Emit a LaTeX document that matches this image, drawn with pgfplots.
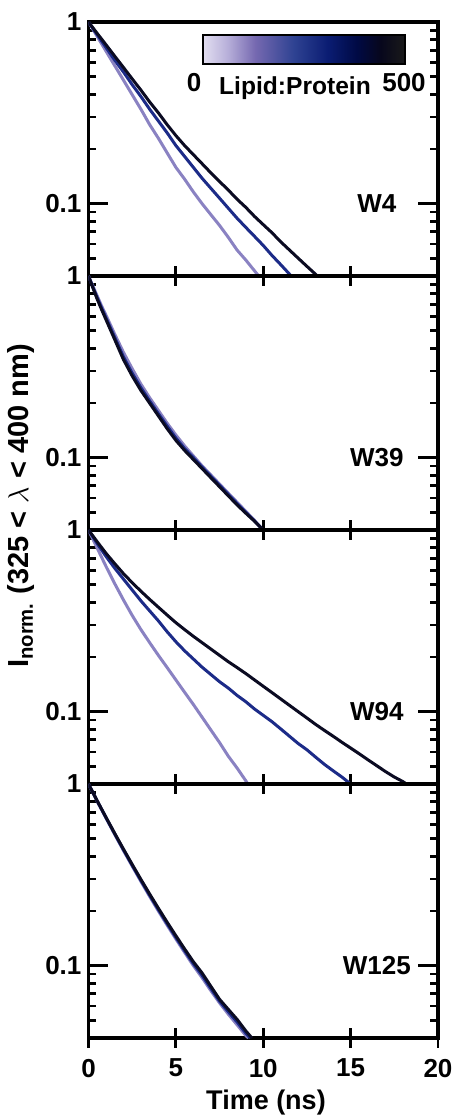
\documentclass[border=0pt]{standalone}
\usepackage{pgfplots}
\pgfplotsset{compat=1.18}
\usepackage{fontspec}
\setmainfont{Liberation Sans}
\definecolor{clight}{HTML}{8A82C2}
\definecolor{cmid}{HTML}{1C2B88}
\definecolor{cdark}{HTML}{0B0B22}
\definecolor{cb0}{HTML}{E2DEF0}
\definecolor{cb1}{HTML}{B8B0DA}
\definecolor{cb2}{HTML}{7568B0}
\definecolor{cb3}{HTML}{2E4292}
\definecolor{cb4}{HTML}{0A1C72}
\definecolor{cb5}{HTML}{000A45}
\definecolor{cb6}{HTML}{07071C}
\definecolor{cb7}{HTML}{1A1A1A}
\pgfdeclarehorizontalshading{lipidmap}{100bp}{color(0bp)=(cb0); color(25bp)=(cb0); color(31bp)=(cb1); color(38bp)=(cb2); color(47.5bp)=(cb3); color(56bp)=(cb4); color(63bp)=(cb5); color(69bp)=(cb6); color(75bp)=(cb7); color(100bp)=(cb7)}
\newcommand{\tf}{\bfseries\fontsize{13}{15}\selectfont}
\newcommand{\lf}{\bfseries\fontsize{12.3}{15}\selectfont}
\newcommand{\yf}{\bfseries\fontsize{14.5}{17}\selectfont}
\newcommand{\xf}{\bfseries\fontsize{13.5}{16}\selectfont}
\newcommand{\ylab}{I\textsubscript{norm.} (325 < $\lambda$ < 400 nm)}
\pgfplotsset{
lt/.style={clight, line width=1.5pt},
md/.style={cmid, line width=1.5pt},
dk/.style={cdark, line width=1.5pt}}
\begin{document}
\begin{tikzpicture}
\useasboundingbox (0,0) rectangle (227pt,560pt);
\pgfplotsset{every axis/.append style={
  xmin=0, xmax=20, ymin=0.04, ymax=1,
  scale only axis, width=174.75pt, height=127pt, anchor=south west,
  axis line style={line width=1.6pt},
  every tick/.append style={black, line width=1.4pt},
  ytick={0.1,1}, yticklabels={0.1,1},
  minor ytick={0.04,0.05,0.06,0.07,0.08,0.09,0.2,0.3,0.4,0.5,0.6,0.7,0.8,0.9},
  xtick={0,5,10,15,20},
  xtick pos=left, ytick pos=both,
  xtick align=center, ytick align=inside,
  major tick length=10pt, minor tick length=4pt,
  ticklabel style={font=\tf},
  xticklabel style={yshift=-2pt},
}}
% ---------- W4 ----------
\begin{axis}[ymode=log, at={(44.25pt,422pt)}, xticklabels={}]
\addplot[lt] coordinates {(0,1) (0.5,0.8318) (1,0.6918) (1.5,0.5754) (2,0.4786) (2.5,0.3981) (3,0.3311) (3.5,0.2723) (4,0.2291) (4.5,0.1905) (5,0.1585) (5.5,0.1365) (6,0.1161) (6.5,0.1) (7,0.0871) (7.5,0.0759) (8,0.0653) (8.5,0.0556) (9,0.0490) (9.5,0.0427) (9.74,0.0400)};
\addplot[md] coordinates {(0,1) (0.5,0.8511) (1,0.7244) (1.5,0.6166) (2,0.5309) (2.5,0.4519) (3,0.3890) (3.5,0.3311) (4,0.2851) (4.5,0.2455) (5,0.2089) (5.5,0.1820) (6,0.1585) (6.5,0.1380) (7,0.1216) (7.5,0.1072) (8,0.0944) (8.5,0.0832) (9,0.0741) (9.5,0.0661) (10,0.0589) (10.5,0.0519) (11,0.0462) (11.6,0.0400)};
\addplot[dk] coordinates {(0,1) (0.5,0.8650) (1,0.7499) (1.5,0.6486) (2,0.5623) (2.5,0.4864) (3,0.4217) (3.5,0.3631) (4,0.3162) (4.5,0.2723) (5,0.2371) (5.5,0.2089) (6,0.1862) (6.5,0.1660) (7,0.1479) (7.5,0.1324) (8,0.1189) (8.5,0.1059) (9,0.0955) (9.5,0.0851) (10,0.0767) (10.5,0.0692) (11,0.0617) (11.5,0.0556) (12,0.0501) (12.5,0.0452) (13.1,0.0400)};
\node[font=\tf] at (axis cs:16.5,0.1) {W4};
\end{axis}
% ---------- W39 ----------
\begin{axis}[ymode=log, at={(44.25pt,295pt)}, xticklabels={}]
\addplot[lt] coordinates {(0,1) (0.25,0.8811) (0.5,0.7762) (0.75,0.6839) (1,0.6095) (1.5,0.4786) (2,0.3802) (2.5,0.3090) (3,0.2541) (3.5,0.2138) (4,0.1820) (4.5,0.1549) (5,0.1334) (5.5,0.1161) (6,0.1023) (6.5,0.0902) (7,0.0804) (7.5,0.0716) (8,0.0638) (8.5,0.0569) (9,0.0507) (9.5,0.0452) (9.95,0.0400)};
\addplot[md] coordinates {(0,1) (0.25,0.8670) (0.5,0.7586) (0.75,0.6668) (1,0.5888) (1.5,0.4592) (2,0.3589) (2.5,0.2917) (3,0.2427) (3.5,0.2051) (4,0.1746) (4.5,0.1493) (5,0.1282) (5.5,0.1122) (6,0.1) (6.5,0.0887) (7,0.0791) (7.5,0.0705) (8,0.0628) (8.5,0.0560) (9,0.0501) (9.5,0.0449) (10,0.0400)};
\addplot[dk] coordinates {(0,1) (0.25,0.8610) (0.5,0.7447) (0.75,0.6531) (1,0.5754) (1.5,0.4467) (2,0.3467) (2.5,0.2818) (3,0.2344) (3.5,0.1995) (4,0.1698) (4.5,0.1445) (5,0.1245) (5.5,0.1096) (6,0.0977) (6.5,0.0871) (7,0.0776) (7.5,0.0692) (8,0.0617) (8.5,0.0550) (9,0.0495) (9.5,0.0447) (10,0.0400)};
\node[font=\tf] at (axis cs:16.5,0.1) {W39};
\end{axis}
% ---------- W94 ----------
\begin{axis}[ymode=log, at={(44.25pt,168pt)}, xticklabels={}]
\addplot[lt] coordinates {(0,1) (0.5,0.7943) (1,0.6310) (1.5,0.5070) (2,0.4121) (2.5,0.3388) (3,0.2831) (3.5,0.2399) (4,0.2042) (4.5,0.1750) (5,0.1496) (5.5,0.1279) (6,0.1096) (6.5,0.0933) (7,0.0794) (7.5,0.0676) (8,0.0569) (8.5,0.0490) (9,0.0417) (9.12,0.0400)};
\addplot[md] coordinates {(0,1) (0.5,0.8414) (1,0.7161) (1.5,0.6166) (2,0.5370) (2.5,0.4677) (3,0.4074) (3.5,0.3589) (4,0.3162) (4.5,0.2754) (5,0.2427) (5.5,0.2163) (6,0.1950) (6.5,0.1758) (7,0.1603) (7.5,0.1462) (8,0.1349) (8.5,0.1230) (9,0.1135) (9.5,0.1035) (10,0.0955) (10.5,0.0881) (11,0.0804) (11.5,0.0733) (12,0.0668) (12.5,0.0617) (13,0.0562) (13.5,0.0513) (14,0.0473) (14.5,0.0437) (15,0.0400)};
\addplot[dk] coordinates {(0,1) (0.5,0.8610) (1,0.7447) (1.5,0.6531) (2,0.5754) (2.5,0.5129) (3,0.4603) (3.5,0.4150) (4,0.3758) (4.5,0.3404) (5,0.3090) (5.5,0.2831) (6,0.2600) (6.5,0.2399) (7,0.2213) (7.5,0.2042) (8,0.1884) (8.5,0.1750) (9,0.1622) (9.5,0.1496) (10,0.1380) (10.5,0.1274) (11,0.1175) (11.5,0.1084) (12,0.1) (12.5,0.0923) (13,0.0851) (13.5,0.0789) (14,0.0733) (14.5,0.0679) (15,0.0631) (15.5,0.0586) (16,0.0543) (16.5,0.0504) (17,0.0468) (17.5,0.0437) (18,0.0412) (18.2,0.0400)};
\node[font=\tf] at (axis cs:16.5,0.1) {W94};
\end{axis}
% ---------- W125 ----------
\begin{axis}[ymode=log, at={(44.25pt,41pt)}, xticklabels={0,5,10,15,20}]
\addplot[lt] coordinates {(0,1) (0.5,0.8035) (1,0.6501) (1.5,0.5279) (2,0.4305) (2.5,0.3532) (3,0.2907) (3.5,0.2404) (4,0.2000) (4.5,0.1671) (5,0.1403) (5.5,0.1183) (6,0.1001) (6.5,0.0859) (7,0.0729) (7.5,0.0624) (8,0.0541) (8.5,0.0473) (9,0.0413) (9.15,0.0400)};
\addplot[md] coordinates {(0,1) (0.5,0.8054) (1,0.6531) (1.5,0.5315) (2,0.4345) (2.5,0.3571) (3,0.2946) (3.5,0.2442) (4,0.2035) (4.5,0.1703) (5,0.1432) (5.5,0.1210) (6,0.1026) (6.5,0.0885) (7,0.0750) (7.5,0.0638) (8,0.0558) (8.5,0.0490) (9,0.0425) (9.25,0.0400)};
\addplot[dk] coordinates {(0,1) (0.5,0.8072) (1,0.6561) (1.5,0.5352) (2,0.4385) (2.5,0.3610) (3,0.2985) (3.5,0.2480) (4,0.2070) (4.5,0.1736) (5,0.1462) (5.5,0.1237) (6,0.1052) (6.5,0.0912) (7,0.0771) (7.5,0.0653) (8,0.0575) (8.5,0.0507) (9,0.0438) (9.35,0.0400)};
\node[font=\tf] at (axis cs:16.5,0.1) {W125};
\end{axis}
% ---------- colour bar ----------
\shade[shading=lipidmap] (101.5pt,528pt) rectangle (202.5pt,542.5pt);
\draw[line width=1pt] (101.5pt,528pt) rectangle (202.5pt,542.5pt);
\node[font=\tf] at (97pt,518.5pt) {0};
\node[font=\lf] at (147.5pt,516pt) {Lipid:Protein};
\node[font=\tf] at (202pt,518.5pt) {500};
% ---------- axis titles ----------
\node[font=\yf, rotate=90] at (10.5pt,307pt) {\ylab};
\node[font=\xf] at (133pt,8.5pt) {Time (ns)};
\end{tikzpicture}
\end{document}
